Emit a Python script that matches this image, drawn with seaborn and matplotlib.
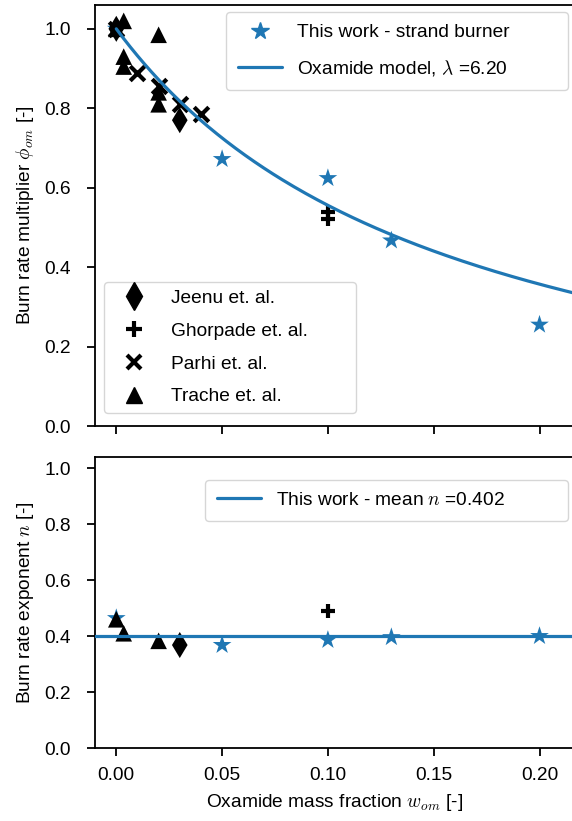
import numpy as np
import pandas as pd
import seaborn as sns
import matplotlib
matplotlib.use("Agg")
import matplotlib.pyplot as plt
from matplotlib.lines import Line2D

# ---- data -------------------------------------------------------------
# This work (strand burner)
tw_w = [0.0, 0.05, 0.10, 0.13, 0.20]
tw_phi = [1.0, 0.672, 0.624, 0.467, 0.255]
tw_n = [0.464, 0.368, 0.386, 0.396, 0.400]

# Literature
jeenu_w = [0.0, 0.03]
jeenu_phi = [1.0, 0.77]
jeenu_n_w = [0.03]
jeenu_n = [0.368]

ghorpade_w = [0.10, 0.10]
ghorpade_phi = [0.54, 0.52]
ghorpade_n_w = [0.10]
ghorpade_n = [0.488]

parhi_w = [0.0, 0.01, 0.02, 0.03, 0.04]
parhi_phi = [1.0, 0.89, 0.855, 0.81, 0.785]

trache_w = [0.0, 0.0035, 0.0035, 0.0035, 0.02, 0.02, 0.02]
trache_phi = [1.0, 1.02, 0.93, 0.905, 0.985, 0.84, 0.81]
trache_n_w = [0.0, 0.0035, 0.02]
trache_n = [0.46, 0.41, 0.383]

lam = 6.20
n_mean = 0.402

# ---- style ------------------------------------------------------------
sns.set_theme(style="ticks")
fs = 13.8
plt.rcParams.update({
    "font.family": ["Liberation Sans", "DejaVu Sans"],
    "mathtext.fontset": "cm",
    "font.size": fs,
    "axes.labelsize": fs,
    "xtick.labelsize": fs,
    "ytick.labelsize": fs,
    "legend.fontsize": fs,
    "text.color": "black",
    "axes.labelcolor": "black",
    "axes.edgecolor": "black",
    "xtick.color": "black",
    "ytick.color": "black",
    "xtick.major.size": 6,
    "ytick.major.size": 6,
    "xtick.major.pad": 7.5,
    "ytick.major.pad": 11,
    "axes.labelpad": 6,
    "axes.linewidth": 1.3,
    "xtick.major.width": 1.3,
    "ytick.major.width": 1.3,
    "legend.handlelength": 2.3,
    "legend.handletextpad": 0.8,
    "legend.borderaxespad": 0.0,
})

blue = "#1f77b4"
W, H = 572, 821
fig = plt.figure(figsize=(W / 100, H / 100), dpi=100)

left = 94.5 / W
right_px = 574
ax1 = fig.add_axes([left, (H - 426) / H, (right_px - 94.5) / W, 421 / H])
ax2 = fig.add_axes([left, (H - 748) / H, (right_px - 94.5) / W, 291 / H])

xl = (-0.0103, 0.2163)
msize = 110

def lit(ax, x, y, marker, label, **kw):
    df = pd.DataFrame({"w": x, "v": y})
    if marker in ("x", "+"):
        sns.scatterplot(data=df, x="w", y="v", ax=ax, marker=marker, color="black",
                        s=msize, linewidth=3, label=label, zorder=3, **kw)
    else:
        sns.scatterplot(data=df, x="w", y="v", ax=ax, marker=marker, color="black",
                        s=msize * (1.6 if marker == "d" else 1.3), edgecolor="none",
                        label=label, zorder=3, **kw)

# ---- top panel: burn rate multiplier ----------------------------------
sns.scatterplot(x=tw_w, y=tw_phi, ax=ax1, marker="*", color=blue, s=200,
                edgecolor="none", zorder=2)
lit(ax1, jeenu_w, jeenu_phi, "d", "Jeenu et. al.")
lit(ax1, ghorpade_w, ghorpade_phi, "+", "Ghorpade et. al.")
lit(ax1, parhi_w, parhi_phi, "x", "Parhi et. al.")
lit(ax1, trache_w, trache_phi, "^", "Trache et. al.")

wm = np.linspace(0.0, 0.22, 200)
model = pd.DataFrame({"w": wm, "phi": (1 - wm) / (1 + lam * wm)})
sns.lineplot(data=model, x="w", y="phi", ax=ax1, color=blue, linewidth=2.3, zorder=4)

ax1.set_xlim(*xl)
ax1.set_ylim(0, 1.06)
ax1.set_yticks([0.0, 0.2, 0.4, 0.6, 0.8, 1.0])
ax1.set_xticks([0.0, 0.05, 0.10, 0.15, 0.20])
ax1.tick_params(labelbottom=False)
ax1.set_xlabel("")
ax1.set_ylabel(r"Burn rate multiplier $\phi_{om}$ [-]")

h_this = [Line2D([], [], marker="*", color=blue, linestyle="none", markersize=13),
          Line2D([], [], color=blue, linewidth=2.3)]
leg1 = ax1.legend(h_this, ["This work - strand burner",
                           r"Oxamide model, $\lambda$ =6.20"],
                  loc="upper left", mode="expand", labelspacing=0.85, borderpad=0.62,
                  bbox_to_anchor=(0.274, 0.5, 0.713, 0.483))
h_lit = [Line2D([], [], marker="d", color="black", linestyle="none", markersize=14),
         Line2D([], [], marker="+", color="black", linestyle="none", markersize=11, mew=3),
         Line2D([], [], marker="x", color="black", linestyle="none", markersize=10, mew=3),
         Line2D([], [], marker="^", color="black", linestyle="none", markersize=11)]
ax1.legend(h_lit, ["Jeenu et. al.", "Ghorpade et. al.", "Parhi et. al.", "Trache et. al."],
           loc="lower left", mode="expand", labelspacing=0.8,
           bbox_to_anchor=(0.0198, 0.031, 0.5255, 0.3))
ax1.add_artist(leg1)

# ---- bottom panel: pressure exponent ----------------------------------
sns.scatterplot(x=tw_w, y=tw_n, ax=ax2, marker="*", color=blue, s=200,
                edgecolor="none", zorder=2)
lit(ax2, jeenu_n_w, jeenu_n, "d", None)
lit(ax2, ghorpade_n_w, ghorpade_n, "+", None)
lit(ax2, trache_n_w, trache_n, "^", None)
mean_df = pd.DataFrame({"w": [xl[0], xl[1]], "n": [n_mean, n_mean]})
sns.lineplot(data=mean_df, x="w", y="n", ax=ax2, color=blue, linewidth=2.3, zorder=4)

ax2.set_xlim(*xl)
ax2.set_ylim(0, 1.04)
ax2.set_yticks([0.0, 0.2, 0.4, 0.6, 0.8, 1.0])
ax2.set_xticks([0.0, 0.05, 0.10, 0.15, 0.20])
ax2.set_xticklabels(["0.00", "0.05", "0.10", "0.15", "0.20"])
ax2.set_xlabel(r"Oxamide mass fraction $w_{om}$ [-]")
ax2.set_ylabel(r"Burn rate exponent $n$ [-]")
ax2.legend([Line2D([], [], color=blue, linewidth=2.3)],
           [r"This work - mean $n$ =0.402"],
           loc="upper left", mode="expand", borderpad=0.62,
           bbox_to_anchor=(0.2305, 0.5, 0.757, 0.922 - 0.5))

fig.savefig("out.png", dpi=100)
